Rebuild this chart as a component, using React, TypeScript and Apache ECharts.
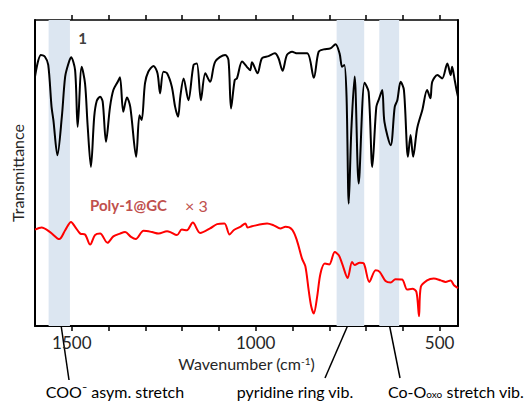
import React, { useEffect, useRef } from "react";
import * as echarts from "echarts";

// Sample 1 (black) spectrum: wavenumber (cm-1) and transmittance (a.u.)
const blackWavenumbers = [
  1600, 1584, 1573, 1564, 1555, 1550, 1539, 1527, 1518, 1509, 1502, 1491, 1484, 1473, 1464, 1457,
  1448, 1439, 1432, 1423, 1416, 1407, 1396, 1387, 1375, 1369, 1360, 1350, 1341, 1325, 1316, 1310,
  1301, 1292, 1278, 1267, 1260, 1251, 1241, 1228, 1219, 1211, 1205, 1196, 1183, 1169, 1160, 1149,
  1137, 1124, 1110, 1083, 1074, 1067, 1057, 1051, 1037, 1024, 1015, 1010, 995, 983, 965, 948, 938,
  927, 915, 901, 887, 860, 842, 829, 815, 797, 783, 772, 765, 759, 753, 747, 740, 731, 720, 704, 693,
  683, 672, 665, 656, 650, 633, 622, 615, 606, 597, 586, 579, 572, 561, 547, 534, 525, 520, 506, 493,
  479, 470, 466, 459, 454, 450,
];
const blackTransmittance = [
  81.5, 88.6, 88.0, 85.3, 71.6, 67.3, 55.8, 68.4, 81.5, 85.8, 87.8, 83.6, 65.1, 84.7, 79.3, 65.7,
  52.0, 68.4, 73.6, 74.9, 73.3, 60.2, 71.6, 77.1, 79.8, 81.3, 70.0, 74.7, 71.6, 55.3, 68.9, 67.3,
  79.3, 83.1, 85.0, 82.6, 76.0, 83.1, 82.6, 78.2, 71.6, 68.4, 74.9, 80.9, 73.8, 85.3, 85.8, 73.8,
  82.6, 79.8, 86.4, 88.6, 86.9, 71.1, 80.4, 80.9, 86.4, 84.7, 83.6, 86.2, 82.6, 87.5, 88.2, 89.1, 87.5,
  83.4, 88.6, 89.6, 89.1, 89.1, 81.1, 89.6, 90.4, 90.7, 92.1, 89.1, 84.7, 85.3, 74.9, 40.0, 64.0, 81.5, 46.6, 79.5, 76.5,
  52.0, 71.6, 74.1, 77.1, 66.7, 59.1, 71.6, 73.8, 79.8, 77.1, 55.3, 62.4, 55.3, 64.6, 70.6, 77.1, 74.4, 79.8, 82.0, 80.9,
  85.8, 82.0, 84.7, 80.4, 77.1, 74.9,
];

// Poly-1@GC (red) spectrum, x3
const redWavenumbers = [
  1600, 1582, 1559, 1534, 1518, 1502, 1491, 1477, 1464, 1450, 1437, 1423, 1403, 1387, 1369, 1355,
  1339, 1326, 1305, 1282, 1264, 1241, 1232, 1214, 1201, 1187, 1171, 1151, 1124, 1105, 1085, 1071,
  1060, 1042, 1028, 1022, 1010, 969, 951, 933, 919, 901, 888, 874, 865, 856, 849, 842, 833, 824,
  812, 800, 785, 774, 765, 750, 738, 731, 717, 706, 691, 674, 663, 647, 633, 620, 602, 588, 574,
  563, 556, 551, 534, 516, 497, 484, 470, 461, 450,
];
const redTransmittance = [
  31.5, 32.2, 30.7, 28.4, 31.3, 34.0, 32.4, 30.2, 29.9, 26.6, 29.7, 30.2, 27.2, 29.3, 30.2, 30.7,
  29.1, 28.4, 31.1, 30.7, 30.2, 31.0, 30.7, 29.7, 31.5, 31.3, 33.8, 30.4, 31.9, 33.3, 33.5, 29.9,
  31.3, 32.4, 33.5, 32.2, 32.6, 33.5, 32.9, 31.9, 32.4, 31.5, 28.0, 22.0, 19.5, 11.7, 6.4, 4.1, 9.5, 17.1,
  20.4, 20.1, 24.2, 23.1, 20.4, 15.7, 20.9, 19.9, 20.7, 20.4, 14.4, 18.2, 17.7, 14.7, 14.2, 15.3, 15.2, 11.9, 12.2,
  11.1, 3.2, 12.8, 14.9, 15.5, 14.9, 14.4, 14.9, 13.3, 12.4,
];

// Highlighted bands (cm-1)
const bandStarts = [1563, 780, 664];
const bandEnds = [1505, 705, 610];

const xTickValues = [500, 600, 700, 800, 900, 1000, 1100, 1200, 1300, 1400, 1500];
const xLabelValues = [500, 1000, 1500];

const FONT = "Lato";
const TEXT = "#262626";

export default function App() {
  const ref = useRef<HTMLDivElement>(null);

  useEffect(() => {
    document.body.style.margin = "0";
    if (!ref.current) return;
    const chart = echarts.init(ref.current, null, { renderer: "svg" });

    const axisLineStyle = { color: "#000", width: 2 };

    const option: any = {
      animation: false,
      backgroundColor: "#fff",
      grid: { left: 35, right: 66, top: 20, bottom: 75 },
      xAxis: [
        {
          type: "value",
          min: 450,
          max: 1600,
          inverse: true,
          position: "bottom",
          axisLine: { show: true, onZero: false, lineStyle: axisLineStyle },
          axisTick: { show: true, customValues: xTickValues, length: 5, lineStyle: { color: "#000", width: 1.5 } },
          axisLabel: {
            customValues: xLabelValues,
            formatter: (v: number) => String(v),
            fontFamily: FONT,
            fontSize: 17,
            color: TEXT,
            margin: 8,
          },
          splitLine: { show: false },
          name: "Wavenumber (cm{sup|-1})",
          nameLocation: "middle",
          nameGap: 29,
          nameTextStyle: {
            fontFamily: FONT,
            fontSize: 16,
            color: TEXT,
            rich: { sup: { fontFamily: FONT, fontSize: 10, verticalAlign: "top", color: TEXT } },
          },
        },
        {
          type: "value",
          min: 450,
          max: 1600,
          inverse: true,
          position: "top",
          axisLine: { show: true, onZero: false, lineStyle: { color: "#000", width: 1.5 } },
          axisTick: { show: true, customValues: xTickValues, length: 5, lineStyle: { color: "#000", width: 1.5 } },
          axisLabel: { show: false },
          splitLine: { show: false },
        },
      ],
      yAxis: [
        {
          type: "value",
          min: 0,
          max: 100,
          position: "left",
          axisLine: { show: true, onZero: false, lineStyle: axisLineStyle },
          axisTick: { show: false },
          axisLabel: { show: false },
          splitLine: { show: false },
          name: "Transmittance",
          nameLocation: "middle",
          nameGap: 10,
          nameTextStyle: { fontFamily: FONT, fontSize: 16, color: TEXT },
        },
        {
          type: "value",
          min: 0,
          max: 100,
          position: "right",
          axisLine: { show: true, onZero: false, lineStyle: axisLineStyle },
          axisTick: { show: false },
          axisLabel: { show: false },
          splitLine: { show: false },
        },
      ],
      series: [
        {
          type: "line",
          name: "1",
          xAxisIndex: 0,
          yAxisIndex: 0,
          data: blackWavenumbers.map((w, i) => [w, blackTransmittance[i]]),
          symbol: "none",
          smooth: 0.3,
          lineStyle: { color: "#000", width: 2 },
          z: 3,
          markArea: {
            silent: true,
            itemStyle: { color: "#dce6f1" },
            data: bandStarts.map((s, i) => [{ xAxis: s }, { xAxis: bandEnds[i] }]),
          },
        },
        {
          type: "line",
          name: "Poly-1@GC",
          xAxisIndex: 0,
          yAxisIndex: 0,
          data: redWavenumbers.map((w, i) => [w, redTransmittance[i]]),
          symbol: "none",
          smooth: 0.3,
          lineStyle: { color: "#ff0000", width: 2 },
          z: 3,
        },
      ],
      graphic: [
        {
          type: "text",
          x: 82.5,
          y: 38,
          style: { text: "1", fontFamily: FONT, fontSize: 15, fontWeight: "bold", fill: "#404040", align: "center", verticalAlign: "middle" },
        },
        {
          type: "text",
          x: 90,
          y: 205,
          style: { text: "Poly-1@GC", fontFamily: FONT, fontSize: 15, fontWeight: "bold", fill: "#c0504d", align: "left", verticalAlign: "middle" },
        },
        {
          type: "text",
          x: 185,
          y: 205,
          style: { text: "× 3", fontFamily: FONT, fontSize: 16, fill: "#c0504d", align: "left", verticalAlign: "middle" },
        },
        { type: "line", shape: { x1: 60, y1: 318, x2: 69, y2: 380 }, style: { stroke: "#000", lineWidth: 1.5 } },
        { type: "line", shape: { x1: 351, y1: 318, x2: 325, y2: 378 }, style: { stroke: "#000", lineWidth: 1.5 } },
        { type: "line", shape: { x1: 388, y1: 318, x2: 400, y2: 378 }, style: { stroke: "#000", lineWidth: 1.5 } },
        {
          type: "text",
          x: 115,
          y: 391,
          style: { text: "COO⁻ asym. stretch", fontFamily: FONT, fontSize: 16, fill: "#000", align: "center", verticalAlign: "middle" },
        },
        {
          type: "text",
          x: 295,
          y: 391,
          style: { text: "pyridine ring vib.", fontFamily: FONT, fontSize: 16, fill: "#000", align: "center", verticalAlign: "middle" },
        },
        {
          type: "text",
          x: 456,
          y: 383,
          style: {
            text: "{a|Co-O}{sub|oxo}{a| stretch vib.}",
            fontFamily: FONT,
            fontSize: 16,
            fill: "#000",
            align: "center",
            verticalAlign: "top",
            rich: {
              a: { fontFamily: FONT, fontSize: 16, lineHeight: 16, verticalAlign: "top", fill: "#000" },
              sub: { fontFamily: FONT, fontSize: 10, lineHeight: 10, padding: [7, 0, 0, 0], verticalAlign: "bottom", fill: "#000" },
            },
          },
        },
      ],
    };

    chart.setOption(option);
    return () => chart.dispose();
  }, []);

  return <div ref={ref} style={{ width: 524, height: 401 }} />;
}
